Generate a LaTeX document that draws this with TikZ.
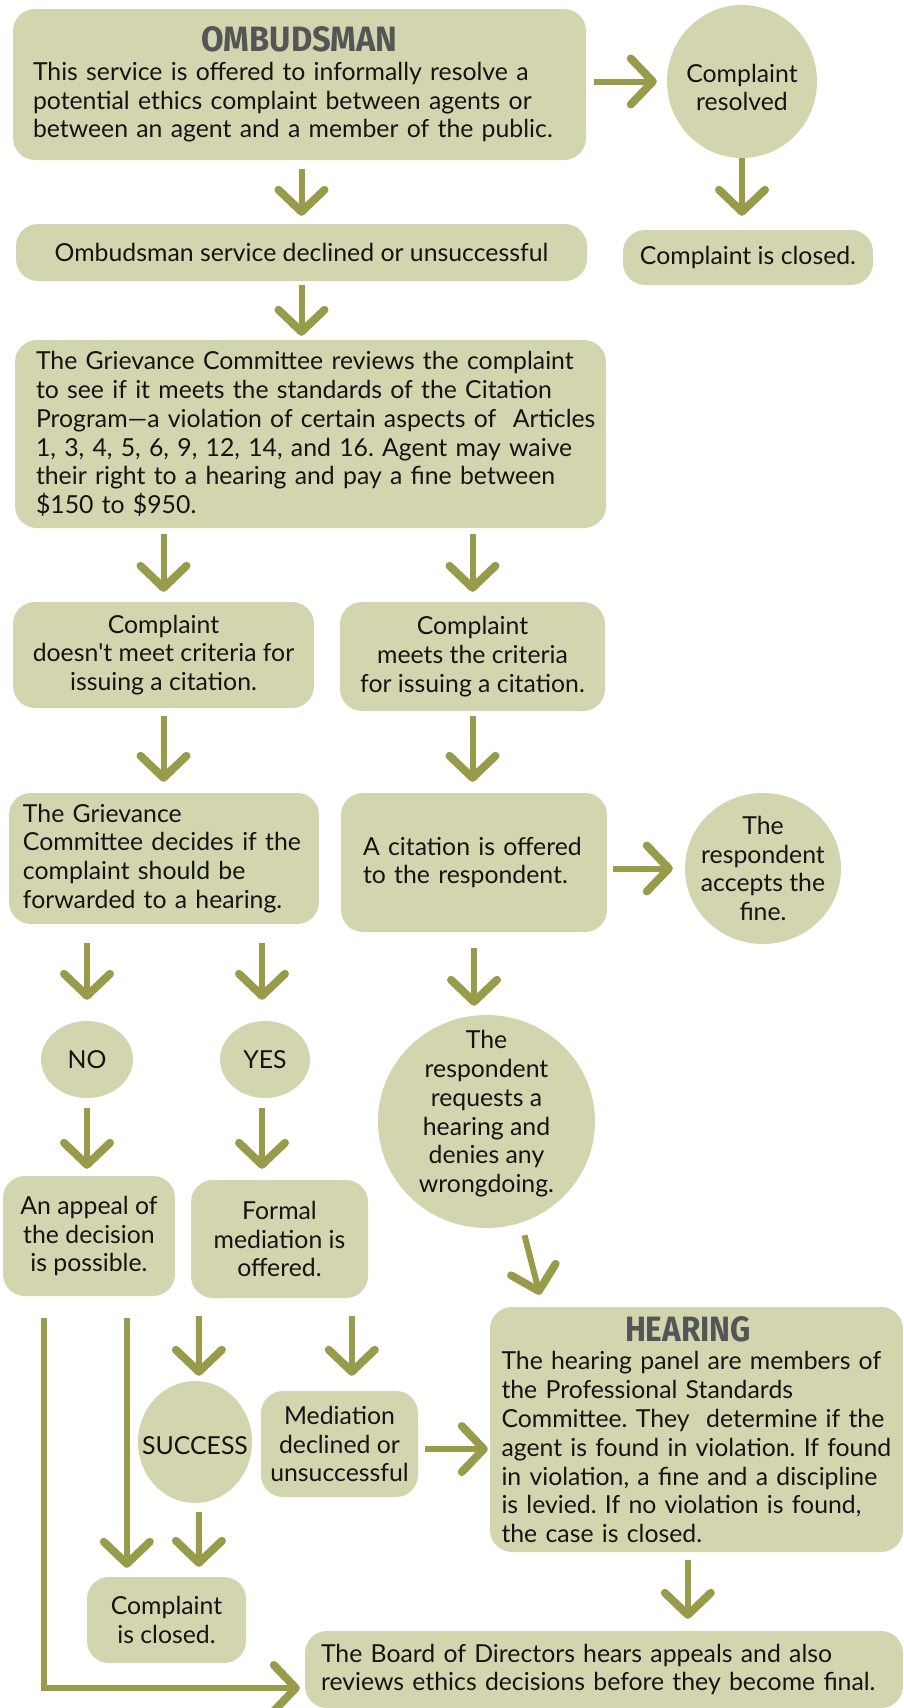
\documentclass[tikz,border=0pt]{standalone}
\usepackage{fontspec}
\setmainfont{Lato}
\newfontfamily\titlefont{Fira Sans}
\usepackage{graphicx}
\usetikzlibrary{shapes.geometric,arrows.meta,calc}
\definecolor{boxfill}{RGB}{211,213,174}
\definecolor{olive}{RGB}{152,156,74}
\definecolor{titlegray}{RGB}{85,85,85}
\definecolor{ink}{RGB}{20,20,20}
\newcommand{\boxtitle}[2]{\makebox[0pt][l]{\hspace*{#1}\textcolor{titlegray}{#2}}}
\frenchspacing
\hyphenpenalty=10000
\exhyphenpenalty=10000
\tikzset{
  bodyfont/.style={font=\fontsize{24.8}{28.8}\selectfont, text=ink},
  box/.style={bodyfont, fill=boxfill, rounded corners=22pt, inner sep=0pt, align=center},
  lbox/.style={box, align=left},
  oval/.style={bodyfont, ellipse, fill=boxfill, inner sep=-120pt, align=center},
  flow/.style={draw=olive, line width=6pt, -{Straight Barb[length=22pt,width=46pt,line width=8pt,round]}},
}
\begin{document}
\begin{tikzpicture}[x=1pt,y=-1pt]
\useasboundingbox (0,0) rectangle (903,1708);

% nodes
\node[lbox, minimum width=573, minimum height=151, text width=533] (omb) at (299.5,84.5)
 {\boxtitle{168.5pt}{\resizebox{196pt}{25pt}{\titlefont\bfseries OMBUDSMAN}}\\
  This service is offered to informally resolve a\\
  potential ethics complaint between agents or\\
  between an agent and a member of the public.};
\node[oval, minimum width=150, minimum height=153] (resolved) at (742,81.5) {\rule{0pt}{30pt}Complaint\\resolved};
\node[box, minimum width=250, minimum height=55] (closedA) at (748,257.5) {Complaint is closed.};
\node[box, minimum width=571, minimum height=57] (declined) at (301.5,252.5) {Ombudsman service declined or unsuccessful};
\node[lbox, minimum width=591, minimum height=188, text width=549] (grievance) at (310.5,434)
 {The Grievance Committee reviews the complaint\\
  to see if it meets the standards of the Citation\\
  \mbox{Program—a violation of certain aspects of\ \ Articles}\\
  1, 3, 4, 5, 6, 9, 12, 14, and 16. Agent may waive\\
  their right to a hearing and pay a fine between\\
  \$150 to \$950.};
\node[box, minimum width=301, minimum height=106] (nomeet) at (163.5,655)
 {Complaint\\doesn\textquotesingle t meet criteria for\\issuing a citation.};
\node[box, minimum width=265, minimum height=109] (meets) at (472.5,656.5)
 {Complaint\\meets the criteria\\for issuing a citation.};
\node[lbox, minimum width=310, minimum height=131, text width=282] (decides) at (164,858.5)
 {The Grievance\\Committee decides if the\\complaint should be\\forwarded to a hearing.};
\node[lbox, minimum width=266, minimum height=139, text width=222] (citation) at (474,862.5)
 {A citation is offered\\to the respondent.};
\node[oval, minimum width=156, minimum height=151] (accepts) at (763,868.5)
 {The\\respondent\\accepts the\\fine.};
\node[oval, minimum width=92, minimum height=77] (no) at (87,1059.5) {NO};
\node[oval, minimum width=90, minimum height=77] (yes) at (265,1059.5) {YES};
\node[oval, minimum width=217, minimum height=213] (big) at (486.5,1121.5)
 {The\\respondent\\requests a\\hearing and\\denies any\\wrongdoing.\rule[-20pt]{0pt}{1pt}};
\node[box, minimum width=172, minimum height=120] (appeal) at (89,1236)
 {An appeal of\\the decision\\is possible.};
\node[box, minimum width=177, minimum height=118] (formal) at (279.5,1239)
 {Formal\\mediation is\\offered.};
\node[lbox, minimum width=413, minimum height=245, text width=390] (hearing) at (696.5,1429.5)
 {\boxtitle{123.5pt}{\resizebox{126pt}{25pt}{\titlefont\bfseries HEARING}}\\
  The hearing panel are members of\\
  the Professional Standards\\
  Committee. They\ \ determine if the\\
  agent is found in violation. If found\\
  in violation, a fine and a discipline\\
  is levied. If no violation is found,\\
  the case is closed.};
\node[box, minimum width=157, minimum height=106] (mediation) at (339.5,1444)
 {Mediation\\declined or\\unsuccessful};
\node[oval, minimum width=114, minimum height=122] (success) at (195,1442) {\rule{0pt}{26pt}SUCCESS};
\node[box, minimum width=159, minimum height=86] (closedB) at (166.5,1620)
 {Complaint\\is closed.};
\node[lbox, minimum width=598, minimum height=77, text width=566] (board) at (604,1669.5)
 {The Board of Directors hears appeals and also\\
  reviews ethics decisions before they become final.};

% helper coordinates
\coordinate (yn) at ($(yes.north)+(-3,0)$);
\coordinate (ys) at ($(yes.south)+(-3,0)$);

% connectors
\draw[flow, shorten <=8pt, shorten >=10pt] (resolved.west -| omb.east) -- (resolved.west);
\draw[flow, shorten >=14pt] (resolved.south) -- (resolved.south |- closedA.north);
\draw[flow, shorten <=9pt, shorten >=8pt] (declined.north |- omb.south) -- (declined.north);
\draw[flow, shorten <=4pt, shorten >=4pt] (declined.south) -- (declined.south |- grievance.north);
\draw[flow, shorten <=6pt, shorten >=10pt] (nomeet.north |- grievance.south) -- (nomeet.north);
\draw[flow, shorten <=6pt, shorten >=10pt] (meets.north |- grievance.south) -- (meets.north);
\draw[flow, shorten <=8pt, shorten >=11pt] (nomeet.south) -- (nomeet.south |- decides.north);
\draw[flow, shorten <=5pt, shorten >=11pt] (meets.south) -- (meets.south |- citation.north);
\draw[flow, shorten <=6pt, shorten >=12pt] (accepts.west -| citation.east) -- (accepts.west);
\draw[flow, shorten <=19pt, shorten >=21pt] (no.north |- decides.south) -- (no.north);
\draw[flow, shorten <=19pt, shorten >=21pt] (yn |- decides.south) -- (yn);
\draw[flow, shorten <=16pt, shorten >=9pt] (citation.south) -- (citation.south |- big.north);
\draw[flow, shorten <=10pt, shorten >=7pt] (no.south) -- (no.south |- appeal.north);
\draw[flow, shorten <=10pt, shorten >=11pt] (ys) -- (ys |- formal.north);
\draw[flow] ($(big.south)+(38,7)$) -- ($(hearing.north west)+(50,-12)$);
\draw[flow, shorten >=5pt] ($(appeal.south west)+(41,22)$) |- ($(board.west)+(0,18.5)$);
\draw[flow, shorten >=9pt] ($(appeal.south west)+(124,22)$) -- ($(closedB.north west)+(40,0)$);
\draw[flow, shorten >=5pt] ($(formal.south west)+(8,18)$) -- ($(success.north)+(4,0)$);
\draw[flow, shorten >=15pt] ($(formal.south west)+(161,18)$) -- ($(mediation.north west)+(91,0)$);
\draw[flow, shorten <=9pt, shorten >=10pt] ($(success.south)+(4,0)$) -- ($(closedB.north west)+(112,0)$);
\draw[flow, shorten <=7pt, shorten >=2pt] ($(mediation.east)+(0,5)$) -- ($(mediation.east -| hearing.west)+(0,5)$);
\draw[flow, shorten <=8pt, shorten >=12pt] ($(hearing.south west)+(198,0)$) -- ($(board.north west)+(383,0)$);
\end{tikzpicture}
\end{document}
